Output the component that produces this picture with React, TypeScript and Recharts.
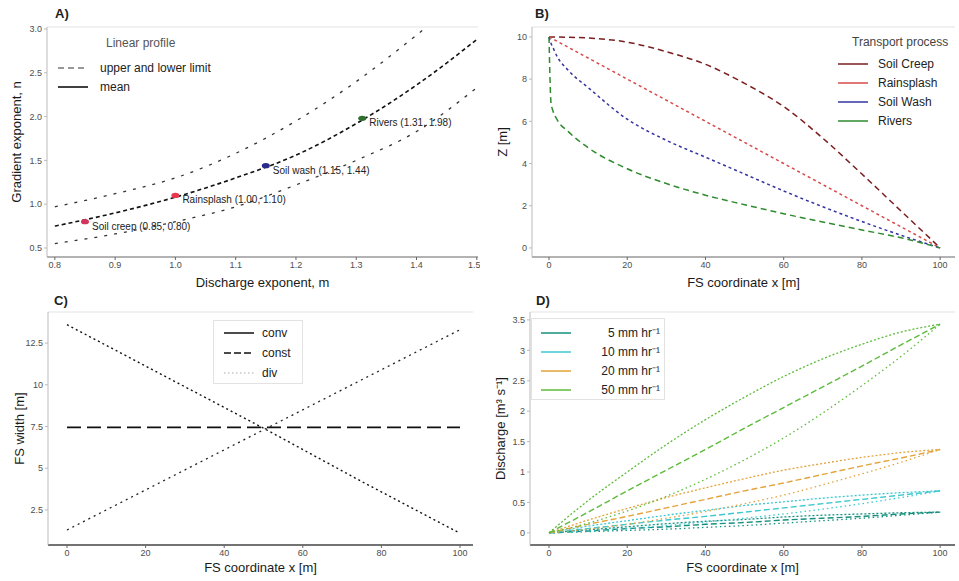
import React from 'react';
import { ComposedChart, LineChart, Line, Scatter, XAxis, YAxis, ReferenceLine } from 'recharts';

const FONT = '"Liberation Sans", Arial, Helvetica, sans-serif';

// A) exponent space
const aX = [0.8, 0.9, 1.0, 1.1, 1.2, 1.3, 1.4, 1.5];
const aMean = [0.75, 0.9, 1.08, 1.3, 1.56, 1.92, 2.36, 2.88];
const aUpper = [0.97, 1.12, 1.3, 1.58, 1.95, 2.4, 2.93, 3.5];
const aLower = [0.55, 0.66, 0.8, 0.97, 1.22, 1.5, 1.83, 2.33];
const aTicksX = [0.8, 0.9, 1.0, 1.1, 1.2, 1.3, 1.4, 1.5];
const aTicksY = [0.5, 1, 1.5, 2, 2.5, 3];
const procNames = ['Soil creep', 'Rainsplash', 'Soil wash', 'Rivers'];
const procM = [0.85, 1.0, 1.15, 1.31];
const procN = [0.8, 1.1, 1.44, 1.98];

// B) hillslope profiles
const bX = [0, 0.5, 1, 2, 5, 10, 20, 30, 40, 50, 60, 70, 80, 90, 100];
const bSoilCreep = [10, 10, 10, 10, 9.98, 9.95, 9.75, 9.3, 8.7, 7.8, 6.7, 5.2, 3.5, 1.75, 0];
const bRainsplash = [10, 9.95, 9.9, 9.8, 9.5, 9, 8, 7, 6, 5, 4, 3, 2, 1, 0];
const bSoilWash = [10, 9.7, 9.5, 9.1, 8.4, 7.6, 6.1, 5.1, 4.3, 3.5, 2.7, 1.95, 1.25, 0.6, 0];
const bRivers = [10, 6.9, 6.5, 6.1, 5.5, 4.75, 3.75, 3.05, 2.5, 2.05, 1.62, 1.23, 0.85, 0.48, 0];
const bTicksX = [0, 20, 40, 60, 80, 100];
const bTicksY = [0, 2, 4, 6, 8, 10];

// C) flow-strip widths
const cX = [0, 25, 50, 75, 100];
const cConv = [13.6, 10.5, 7.4, 4.2, 1.1];
const cConst = [7.45, 7.45, 7.45, 7.45, 7.45];
const cDiv = [1.3, 4.3, 7.3, 10.3, 13.3];
const cTicksY = [2.5, 5, 7.5, 10, 12.5];

// D) discharge
const dX = [0, 10, 20, 30, 40, 50, 60, 70, 80, 90, 100];
const rainLabels = ['5 mm hr\u207B\u00B9', '10 mm hr\u207B\u00B9', '20 mm hr\u207B\u00B9', '50 mm hr\u207B\u00B9'];
const q5Conv = [0, 0.05, 0.1, 0.15, 0.19, 0.22, 0.26, 0.29, 0.31, 0.33, 0.34];
const q5Const = [0, 0.03, 0.07, 0.1, 0.14, 0.17, 0.21, 0.24, 0.27, 0.31, 0.34];
const q5Div = [0, 0.02, 0.04, 0.06, 0.09, 0.12, 0.16, 0.2, 0.24, 0.29, 0.34];
const q10Conv = [0, 0.11, 0.2, 0.29, 0.37, 0.45, 0.51, 0.57, 0.62, 0.66, 0.69];
const q10Const = [0, 0.07, 0.14, 0.21, 0.27, 0.34, 0.41, 0.48, 0.55, 0.62, 0.69];
const q10Div = [0, 0.03, 0.07, 0.12, 0.18, 0.24, 0.31, 0.39, 0.48, 0.58, 0.69];
const q20Conv = [0, 0.21, 0.4, 0.58, 0.74, 0.89, 1.03, 1.14, 1.24, 1.32, 1.37];
const q20Const = [0, 0.14, 0.27, 0.41, 0.55, 0.69, 0.82, 0.96, 1.1, 1.23, 1.37];
const q20Div = [0, 0.06, 0.14, 0.24, 0.35, 0.48, 0.62, 0.79, 0.97, 1.16, 1.37];
const q50Conv = [0, 0.53, 1.0, 1.45, 1.86, 2.23, 2.57, 2.86, 3.1, 3.3, 3.43];
const q50Const = [0, 0.34, 0.69, 1.03, 1.37, 1.72, 2.06, 2.4, 2.74, 3.09, 3.43];
const q50Div = [0, 0.16, 0.36, 0.6, 0.88, 1.2, 1.56, 1.97, 2.42, 2.9, 3.43];
const dTicksY = [0, 0.5, 1, 1.5, 2, 2.5, 3, 3.5];

// tables for the charts
const aData = aX.map((x, i) => ({ x, mean: aMean[i], upper: aUpper[i], lower: aLower[i] }));
const aPoints = procNames.map((name, i) => ({
  x: procM[i],
  y: procN[i],
  name,
  label: `${name} (${procM[i].toFixed(2)}, ${procN[i].toFixed(2)})`,
}));
const bData = bX.map((x, i) => ({
  x,
  creep: bSoilCreep[i],
  splash: bRainsplash[i],
  wash: bSoilWash[i],
  rivers: bRivers[i],
}));
const cData = cX.map((x, i) => ({ x, conv: cConv[i], cst: cConst[i], div: cDiv[i] }));
const dGroups = [
  { key: 'r5', conv: q5Conv, cst: q5Const, div: q5Div },
  { key: 'r10', conv: q10Conv, cst: q10Const, div: q10Div },
  { key: 'r20', conv: q20Conv, cst: q20Const, div: q20Div },
  { key: 'r50', conv: q50Conv, cst: q50Const, div: q50Div },
];
const dData = dX.map((x, i) => {
  const row: Record<string, number> = { x };
  dGroups.forEach((g) => {
    row[`${g.key}_conv`] = g.conv[i];
    row[`${g.key}_cst`] = g.cst[i];
    row[`${g.key}_div`] = g.div[i];
  });
  return row;
});

// styles
const procColors: Record<string, string> = {
  'Soil creep': '#d2345a',
  Rainsplash: '#e8384f',
  'Soil wash': '#2a2a8c',
  Rivers: '#2f6f2f',
};
const profColors = { creep: '#7a1f1f', splash: '#d94a4a', wash: '#3434a0', rivers: '#2e8b2e' };
const rainColors = ['#16907f', '#3cc8d0', '#e3a33a', '#5dbb3a'];
const tickStyle = { fontSize: 9, fill: '#4d4d4d', fontFamily: FONT };
const axisDark = { stroke: '#666' };
const axisLight = { stroke: '#bbb' };

const fmt = (v: number) => String(v);

const xTitle = (text: string, y: number) => (props: any) => {
  const vb = props.viewBox || {};
  const cx = (vb.x ?? 0) + (vb.width ?? 0) / 2;
  return (
    <text x={cx} y={y} textAnchor="middle" fontSize={13} fontFamily={FONT} fill="#1a1a1a">
      {text}
    </text>
  );
};

const yTitle = (text: string, x: number) => (props: any) => {
  const vb = props.viewBox || {};
  const cy = (vb.y ?? 0) + (vb.height ?? 0) / 2;
  return (
    <text
      x={x}
      y={cy}
      transform={`rotate(-90 ${x} ${cy})`}
      textAnchor="middle"
      fontSize={13}
      fontFamily={FONT}
      fill="#1a1a1a"
    >
      {text}
    </text>
  );
};

const ProcPoint = (p: any) => (
  <g>
    <ellipse cx={p.cx} cy={p.cy} rx={4} ry={2.6} fill={procColors[p.payload.name]} />
    <text x={p.cx + 7} y={p.cy + 8} fontSize={10} fontFamily={FONT} fill="#222">
      {p.payload.label}
    </text>
  </g>
);

const PanelLetter = ({ text, left, top }: { text: string; left: number; top: number }) => (
  <div style={{ position: 'absolute', left, top, fontSize: 13, fontWeight: 'bold', fontFamily: FONT, color: '#222' }}>
    {text}
  </div>
);

const KeyLine = ({ color, dash, width = 1.5 }: { color: string; dash?: string; width?: number }) => (
  <svg width={30} height={10} style={{ display: 'block' }}>
    <line x1={0} y1={5} x2={30} y2={5} stroke={color} strokeWidth={width} strokeDasharray={dash} />
  </svg>
);

function PanelA() {
  return (
    <div style={{ position: 'absolute', left: 0, top: 0, width: 480, height: 290 }}>
      <ComposedChart width={480} height={290} data={aData} margin={{ top: 27, right: 2, bottom: 0, left: 0 }}>
        <ReferenceLine y={3.023} stroke="#e3e3e3" />
        <XAxis
          dataKey="x"
          type="number"
          domain={[0.787, 1.502]}
          ticks={aTicksX}
          allowDataOverflow
          tickFormatter={(v: number) => v.toFixed(1)}
          height={33}
          tick={tickStyle}
          tickSize={3}
          tickLine={axisDark}
          axisLine={axisDark}
          label={xTitle('Discharge exponent, m', 287)}
        />
        <YAxis
          type="number"
          domain={[0.397, 3.023]}
          ticks={aTicksY}
          allowDataOverflow
          tickFormatter={(v: number) => v.toFixed(1)}
          width={47}
          tick={tickStyle}
          tickSize={3}
          tickLine={axisLight}
          axisLine={axisLight}
          label={yTitle('Gradient exponent, n', 21)}
        />
        <Line type="monotone" dataKey="upper" stroke="#333" strokeWidth={1.3} strokeDasharray="3 7" dot={false} isAnimationActive={false} />
        <Line type="monotone" dataKey="lower" stroke="#333" strokeWidth={1.3} strokeDasharray="3 7" dot={false} isAnimationActive={false} />
        <Line type="monotone" dataKey="mean" stroke="#111" strokeWidth={1.6} strokeDasharray="4 3" dot={false} isAnimationActive={false} />
        <Scatter data={aPoints} dataKey="y" shape={ProcPoint} isAnimationActive={false} />
      </ComposedChart>
      <div style={{ position: 'absolute', left: 58, top: 36, fontFamily: FONT, fontSize: 12, color: '#222' }}>
        <div style={{ marginLeft: 48, color: '#555', height: 22 }}>Linear profile</div>
        <div style={{ display: 'flex', alignItems: 'center', height: 19 }}>
          <KeyLine color="#333" dash="6 4" width={1.2} />
          <span style={{ marginLeft: 12 }}>upper and lower limit</span>
        </div>
        <div style={{ display: 'flex', alignItems: 'center', height: 19 }}>
          <KeyLine color="#111" width={1.6} />
          <span style={{ marginLeft: 12 }}>mean</span>
        </div>
      </div>
      <PanelLetter text="A)" left={55} top={6} />
    </div>
  );
}

function PanelB() {
  const legend = [
    { name: 'Soil Creep', color: profColors.creep },
    { name: 'Rainsplash', color: profColors.splash },
    { name: 'Soil Wash', color: profColors.wash },
    { name: 'Rivers', color: profColors.rivers },
  ];
  return (
    <div style={{ position: 'absolute', left: 480, top: 0, width: 479, height: 290 }}>
      <LineChart width={479} height={290} data={bData} margin={{ top: 27, right: 4, bottom: 0, left: 0 }}>
        <ReferenceLine y={10.47} stroke="#e3e3e3" />
        <XAxis
          dataKey="x"
          type="number"
          domain={[-4.35, 103.8]}
          ticks={bTicksX}
          allowDataOverflow
          height={33}
          tick={tickStyle}
          tickSize={3}
          tickLine={axisDark}
          axisLine={axisDark}
          label={xTitle('FS coordinate x [m]', 287)}
        />
        <YAxis
          type="number"
          domain={[-0.43, 10.47]}
          ticks={bTicksY}
          allowDataOverflow
          width={52}
          tick={tickStyle}
          tickSize={3}
          tickLine={axisLight}
          axisLine={axisLight}
          label={yTitle('Z [m]', 27)}
        />
        <Line type="monotone" dataKey="creep" stroke={profColors.creep} strokeWidth={1.5} strokeDasharray="6 4" dot={false} isAnimationActive={false} />
        <Line type="monotone" dataKey="splash" stroke={profColors.splash} strokeWidth={1.5} strokeDasharray="3 3" dot={false} isAnimationActive={false} />
        <Line type="monotone" dataKey="wash" stroke={profColors.wash} strokeWidth={1.5} strokeDasharray="3 3" dot={false} isAnimationActive={false} />
        <Line type="monotone" dataKey="rivers" stroke={profColors.rivers} strokeWidth={1.5} strokeDasharray="6 4" dot={false} isAnimationActive={false} />
      </LineChart>
      <div style={{ position: 'absolute', left: 358, top: 35, fontFamily: FONT, fontSize: 12, color: '#222' }}>
        <div style={{ marginLeft: 14, height: 19, color: '#444' }}>Transport process</div>
        {legend.map((l) => (
          <div key={l.name} style={{ display: 'flex', alignItems: 'center', height: 19 }}>
            <KeyLine color={l.color} />
            <span style={{ marginLeft: 10 }}>{l.name}</span>
          </div>
        ))}
      </div>
      <PanelLetter text="B)" left={55} top={6} />
    </div>
  );
}

function PanelC() {
  return (
    <div style={{ position: 'absolute', left: 0, top: 290, width: 480, height: 291 }}>
      <LineChart width={480} height={291} data={cData} margin={{ top: 22, right: 7, bottom: 0, left: 0 }}>
        <ReferenceLine y={14.36} stroke="#e3e3e3" />
        <XAxis
          dataKey="x"
          type="number"
          domain={[-4.83, 103.3]}
          ticks={bTicksX}
          allowDataOverflow
          height={36}
          tick={tickStyle}
          tickSize={3}
          tickLine={axisDark}
          axisLine={{ stroke: '#444', strokeWidth: 1.5 }}
          label={xTitle('FS coordinate x [m]', 282)}
        />
        <YAxis
          type="number"
          domain={[0.4, 14.36]}
          ticks={cTicksY}
          allowDataOverflow
          tickFormatter={fmt}
          width={48}
          tick={tickStyle}
          tickSize={3}
          tickLine={axisLight}
          axisLine={axisLight}
          label={yTitle('FS width [m]', 24)}
        />
        <Line type="linear" dataKey="conv" stroke="#111" strokeWidth={1.4} strokeDasharray="2 3" dot={false} isAnimationActive={false} />
        <Line type="linear" dataKey="cst" stroke="#111" strokeWidth={1.6} strokeDasharray="14 6" dot={false} isAnimationActive={false} />
        <Line type="linear" dataKey="div" stroke="#222" strokeWidth={1.3} strokeDasharray="2 4" dot={false} isAnimationActive={false} />
      </LineChart>
      <div
        style={{
          position: 'absolute',
          left: 213,
          top: 30,
          width: 90,
          height: 64,
          border: '1px solid #e2e2e2',
          padding: '2px 0 0 10px',
          boxSizing: 'border-box',
          fontFamily: FONT,
          fontSize: 12,
          color: '#222',
        }}
      >
        <div style={{ display: 'flex', alignItems: 'center', height: 20 }}>
          <KeyLine color="#111" />
          <span style={{ marginLeft: 8 }}>conv</span>
        </div>
        <div style={{ display: 'flex', alignItems: 'center', height: 20 }}>
          <KeyLine color="#111" dash="7 3" />
          <span style={{ marginLeft: 8 }}>const</span>
        </div>
        <div style={{ display: 'flex', alignItems: 'center', height: 20 }}>
          <KeyLine color="#aaa" dash="1.5 2.5" width={1.2} />
          <span style={{ marginLeft: 8 }}>div</span>
        </div>
      </div>
      <PanelLetter text="C)" left={54} top={3} />
    </div>
  );
}

function PanelD() {
  const shapes = [
    { s: 'conv', dash: '2 2', w: 1.3 },
    { s: 'cst', dash: '6 3', w: 1.4 },
    { s: 'div', dash: '1.5 3', w: 1.3 },
  ];
  return (
    <div style={{ position: 'absolute', left: 480, top: 290, width: 479, height: 291 }}>
      <LineChart width={479} height={291} data={dData} margin={{ top: 22, right: 4, bottom: 0, left: 0 }}>
        <ReferenceLine y={3.63} stroke="#e3e3e3" />
        <XAxis
          dataKey="x"
          type="number"
          domain={[-4.86, 103.8]}
          ticks={bTicksX}
          allowDataOverflow
          height={36}
          tick={tickStyle}
          tickSize={3}
          tickLine={axisDark}
          axisLine={{ stroke: '#444', strokeWidth: 1.5 }}
          label={xTitle('FS coordinate x [m]', 282)}
        />
        <YAxis
          type="number"
          domain={[-0.2, 3.63]}
          ticks={dTicksY}
          allowDataOverflow
          tickFormatter={fmt}
          width={50}
          tick={tickStyle}
          tickSize={3}
          tickLine={axisLight}
          axisLine={axisLight}
          label={yTitle('Discharge [m\u00B3 s\u207B\u00B9]', 25)}
        />
        {dGroups.map((g, gi) =>
          shapes.map((sh) => (
            <Line
              key={`${g.key}_${sh.s}`}
              type="monotone"
              dataKey={`${g.key}_${sh.s}`}
              stroke={rainColors[gi]}
              strokeWidth={sh.w}
              strokeDasharray={sh.dash}
              dot={false}
              isAnimationActive={false}
            />
          ))
        )}
      </LineChart>
      <div
        style={{
          position: 'absolute',
          left: 51,
          top: 28,
          width: 134,
          height: 82,
          border: '1px solid #e2e2e2',
          background: '#fff',
          padding: '4px 4px 0 9px',
          boxSizing: 'border-box',
          fontFamily: FONT,
          fontSize: 12,
          color: '#222',
        }}
      >
        {rainLabels.map((lab, i) => (
          <div key={lab} style={{ display: 'flex', alignItems: 'center', height: 19 }}>
            <KeyLine color={rainColors[i]} />
            <span style={{ marginLeft: 'auto' }}>{lab}</span>
          </div>
        ))}
      </div>
      <PanelLetter text="D)" left={56} top={3} />
    </div>
  );
}

export default function App() {
  return (
    <div style={{ position: 'absolute', left: 0, top: 0, width: 959, height: 581, background: '#fff', fontFamily: FONT }}>
      <PanelA />
      <PanelB />
      <PanelC />
      <PanelD />
    </div>
  );
}
